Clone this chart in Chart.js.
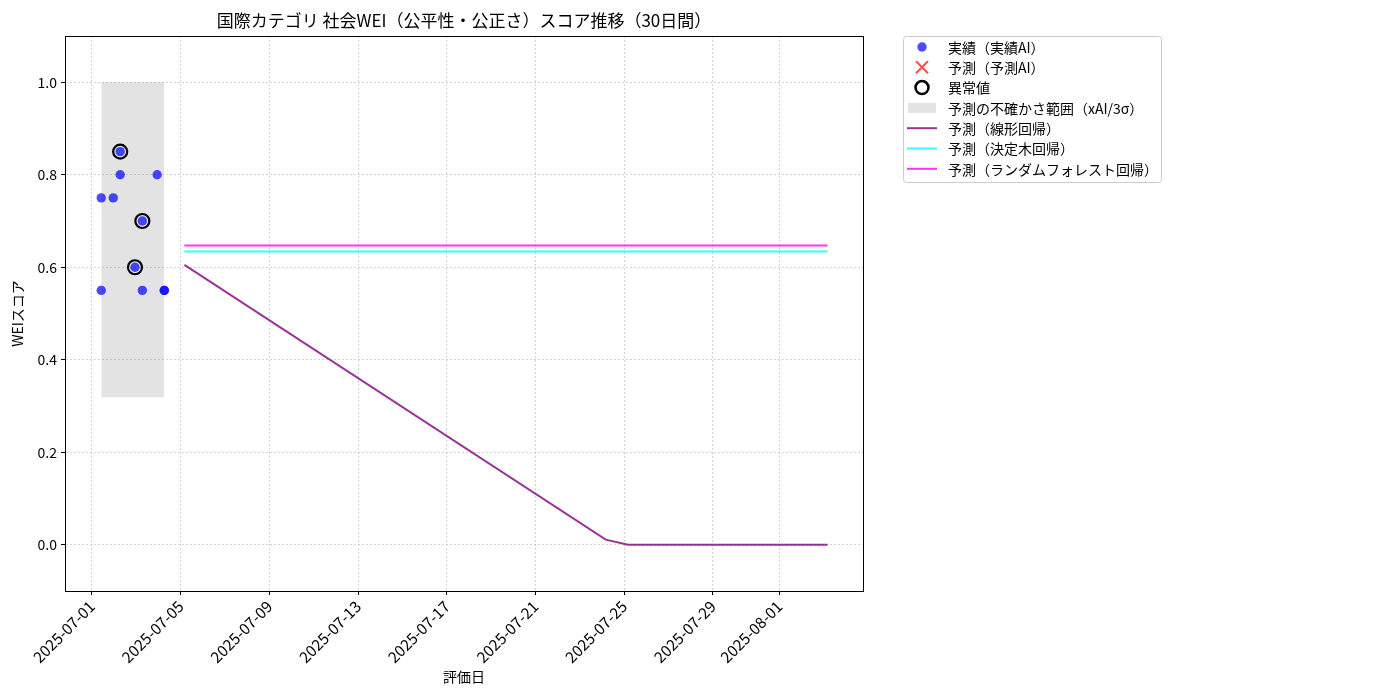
<!DOCTYPE html>
<html>
<head>
<meta charset="utf-8">
<script src="https://cdn.jsdelivr.net/npm/chart.js@4.4.1/dist/chart.umd.min.js"></script>
<style>
  html, body { margin: 0; padding: 0; background: #fff; }
  #wrap { width: 1400px; height: 700px; }
</style>
</head>
<body>
<div id="wrap"><canvas id="mychart"></canvas></div>
<script>
const FONT = '"Noto Sans CJK JP", "Noto Sans", sans-serif';

// 実績（実績AI）
const obsDates = ['2025-07-01 10:00', '2025-07-01 10:00', '2025-07-01 23:00', '2025-07-02 06:30', '2025-07-02 06:30',
                  '2025-07-02 22:30', '2025-07-03 06:30', '2025-07-03 06:30', '2025-07-03 22:30', '2025-07-04 06:15', '2025-07-04 06:15'];
const obsValues = [0.75, 0.55, 0.75, 0.85, 0.80, 0.60, 0.70, 0.55, 0.80, 0.55, 0.55];

// 異常値
const anomalyDates = ['2025-07-02 06:30', '2025-07-02 22:30', '2025-07-03 06:30'];
const anomalyValues = [0.85, 0.60, 0.70];

// 予測の不確かさ範囲
const bandDates = ['2025-07-01 10:00', '2025-07-04 06:15'];
const bandLow = [0.319, 0.319];
const bandHigh = [1.0, 1.0];

// 予測（30日間）
const linearDates = ['2025-07-05 04:00', '2025-07-24 04:00', '2025-07-25 04:00', '2025-08-03 04:00'];
const linearValues = [0.605, 0.011, 0.0, 0.0];
const flatDates = ['2025-07-05 04:00', '2025-08-03 04:00'];
const treeValues = [0.634, 0.634];
const forestValues = [0.647, 0.647];

// 軸
const xTickDates = ['2025-07-01', '2025-07-05', '2025-07-09', '2025-07-13', '2025-07-17',
                    '2025-07-21', '2025-07-25', '2025-07-29', '2025-08-01'];
const yTickValues = [0.0, 0.2, 0.4, 0.6, 0.8, 1.0];
const xMin = '2025-06-29 18:47';
const xMax = '2025-08-04 18:25';
const yMin = -0.1;
const yMax = 1.1;

function t(s) {
    return Date.parse(s.length > 10 ? s.replace(' ', 'T') + ':00Z' : s + 'T00:00:00Z');
}
function pts(dates, values) {
    return dates.map((d, i) => ({ x: t(d), y: values[i] }));
}

const legendItems = [
    { label: '実績（実績AI）', kind: 'dot', color: 'rgba(0,0,255,0.7)' },
    { label: '予測（予測AI）', kind: 'x', color: 'rgba(255,0,0,0.7)' },
    { label: '異常値', kind: 'ring', color: '#000' },
    { label: '予測の不確かさ範囲（xAI/3σ）', kind: 'rect', color: 'rgba(128,128,128,0.22)' },
    { label: '予測（線形回帰）', kind: 'line', color: 'rgba(128,0,128,0.8)' },
    { label: '予測（決定木回帰）', kind: 'line', color: 'rgba(0,255,255,0.8)' },
    { label: '予測（ランダムフォレスト回帰）', kind: 'line', color: 'rgba(255,0,255,0.8)' },
];

// 枠線と凡例（matplotlib風）
const framePlugin = {
    id: 'frame',
    afterDatasetsDraw(chart) {
        const { ctx, chartArea: a } = chart;
        ctx.save();
        ctx.strokeStyle = '#000';
        ctx.lineWidth = 1;
        ctx.strokeRect(a.left + 0.5, a.top + 0.5, a.right - a.left, a.bottom - a.top);
        ctx.restore();
    },
    afterDraw(chart) {
        const ctx = chart.ctx;
        const bx = 903, by = 36, bw = 258, bh = 146;
        ctx.save();
        ctx.fillStyle = 'rgba(255,255,255,0.8)';
        ctx.strokeStyle = '#cccccc';
        ctx.lineWidth = 1;
        ctx.beginPath();
        ctx.roundRect(bx + 0.5, by + 0.5, bw, bh, 3);
        ctx.fill();
        ctx.stroke();
        ctx.font = '14px ' + FONT;
        ctx.textBaseline = 'middle';
        ctx.textAlign = 'left';
        legendItems.forEach((it, i) => {
            const y = 47 + i * 20.3;
            const cx = 922;
            if (it.kind === 'dot') {
                ctx.fillStyle = it.color;
                ctx.beginPath(); ctx.arc(cx, y, 4.7, 0, Math.PI * 2); ctx.fill();
            } else if (it.kind === 'x') {
                ctx.strokeStyle = it.color; ctx.lineWidth = 2;
                ctx.beginPath();
                ctx.moveTo(cx - 6, y - 6); ctx.lineTo(cx + 6, y + 6);
                ctx.moveTo(cx + 6, y - 6); ctx.lineTo(cx - 6, y + 6);
                ctx.stroke();
            } else if (it.kind === 'ring') {
                ctx.strokeStyle = it.color; ctx.lineWidth = 2.5;
                ctx.beginPath(); ctx.arc(cx, y, 6.5, 0, Math.PI * 2); ctx.stroke();
            } else if (it.kind === 'rect') {
                ctx.fillStyle = it.color;
                ctx.fillRect(908, y - 5, 28, 10);
            } else {
                ctx.strokeStyle = it.color; ctx.lineWidth = 2;
                ctx.beginPath(); ctx.moveTo(907, y); ctx.lineTo(937, y); ctx.stroke();
            }
            ctx.fillStyle = '#000';
            ctx.fillText(it.label, 948, y + 0.5);
        });
        ctx.restore();
    }
};

const gridOpts = {
    color: 'rgba(176,176,176,0.7)',
    lineWidth: 0.8,
    tickColor: '#000',
    tickLength: 4,
    tickWidth: 1,
    tickBorderDash: [],
};

const ctx = document.getElementById('mychart');
const myChart = new Chart(ctx, {
    type: 'scatter',
    data: {
        datasets: [
            {
                label: '異常値',
                data: pts(anomalyDates, anomalyValues),
                pointRadius: 7,
                backgroundColor: 'rgba(0,0,0,0)',
                borderColor: '#000',
                borderWidth: 2.2,
            },
            {
                label: '実績（実績AI）',
                data: pts(obsDates, obsValues),
                pointRadius: 4.7,
                backgroundColor: 'rgba(0,0,255,0.7)',
                borderWidth: 0,
            },
            {
                label: '予測（予測AI）',
                data: [],
                pointStyle: 'crossRot',
            },
            {
                label: '予測（ランダムフォレスト回帰）',
                data: pts(flatDates, forestValues),
                showLine: true,
                pointRadius: 0,
                borderColor: 'rgba(255,0,255,0.8)',
                borderWidth: 2,
            },
            {
                label: '予測（決定木回帰）',
                data: pts(flatDates, treeValues),
                showLine: true,
                pointRadius: 0,
                borderColor: 'rgba(0,255,255,0.8)',
                borderWidth: 2,
            },
            {
                label: '予測（線形回帰）',
                data: pts(linearDates, linearValues),
                showLine: true,
                pointRadius: 0,
                borderColor: 'rgba(128,0,128,0.8)',
                borderWidth: 2,
            },
            {
                label: 'band-low',
                data: pts(bandDates, bandLow),
                showLine: true,
                pointRadius: 0,
                borderWidth: 0,
                borderColor: 'rgba(0,0,0,0)',
            },
            {
                label: '予測の不確かさ範囲（xAI/3σ）',
                data: pts(bandDates, bandHigh),
                showLine: true,
                pointRadius: 0,
                borderWidth: 0,
                borderColor: 'rgba(0,0,0,0)',
                backgroundColor: 'rgba(128,128,128,0.22)',
                fill: '-1',
            },
        ],
    },
    options: {
        responsive: true,
        maintainAspectRatio: false,
        animation: false,
        layout: { padding: { left: 0, right: 537, top: 0, bottom: 0 } },
        plugins: {
            legend: { display: false },
            tooltip: { enabled: false },
            title: {
                display: true,
                text: '国際カテゴリ 社会WEI（公平性・公正さ）スコア推移（30日間）',
                fullSize: false,
                color: '#000',
                font: { family: FONT, size: 17, weight: 'normal', lineHeight: 1.0 },
                padding: { top: 12, bottom: 7 },
            },
        },
        scales: {
            x: {
                type: 'linear',
                min: t(xMin),
                max: t(xMax),
                afterFit(scale) { scale.height = 109; },
                afterBuildTicks(scale) { scale.ticks = xTickDates.map(d => ({ value: t(d) })); },
                grid: gridOpts,
                border: { display: true, color: '#000', width: 1, dash: [2, 2] },
                ticks: {
                    autoSkip: false,
                    maxRotation: 45,
                    minRotation: 45,
                    padding: 2,
                    color: '#000',
                    font: { family: FONT, size: 15.5 },
                    callback: v => new Date(v).toISOString().slice(0, 10),
                },
                title: {
                    display: true,
                    text: '評価日',
                    color: '#000',
                    font: { family: FONT, size: 14 },
                    padding: { top: 0, bottom: 15 },
                },
            },
            y: {
                min: yMin,
                max: yMax,
                afterFit(scale) { scale.width = 65; },
                afterBuildTicks(scale) { scale.ticks = yTickValues.map(v => ({ value: v })); },
                grid: gridOpts,
                border: { display: true, color: '#000', width: 1, dash: [2, 2] },
                ticks: {
                    padding: 4,
                    color: '#000',
                    font: { family: FONT, size: 14 },
                    callback: v => v.toFixed(1),
                },
                title: {
                    display: true,
                    text: 'WEIスコア',
                    color: '#000',
                    font: { family: FONT, size: 14 },
                    padding: { top: 9, bottom: 0 },
                },
            },
        },
    },
    plugins: [framePlugin],
});
</script>
</body>
</html>
